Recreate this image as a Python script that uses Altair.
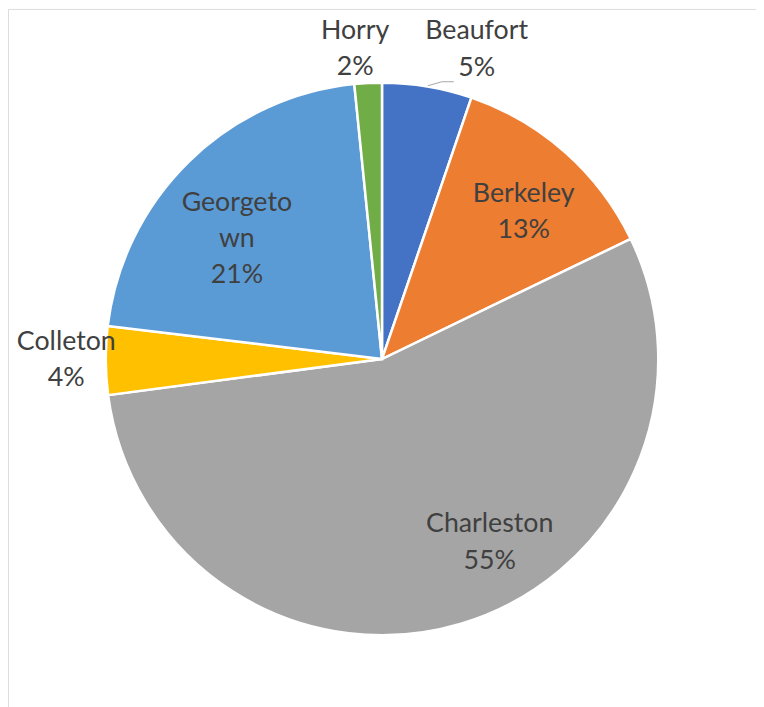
import altair as alt
import pandas as pd

# ---- data ----
counties = ["Beaufort", "Berkeley", "Charleston", "Colleton", "Georgetown", "Horry"]
shares = [5.25, 12.6, 55.1, 4.0, 21.5, 1.6]
labels = ["Beaufort\n5%", "Berkeley\n13%", "Charleston\n55%", "Colleton\n4%",
          "Georgeto\nwn\n21%", "Horry\n2%"]
colors = ["#4472C4", "#ED7D31", "#A5A5A5", "#FFC000", "#5B9BD5", "#70AD47"]

# ---- label layout (radial distance in px of first line, angular nudge in share units) ----
label_radius = [342, 218, 198, 317, 214, 330]
label_nudge = [1.85, -0.25, -4.56, 0.96, 0.44, -0.5]

df = pd.DataFrame({
    "idx": list(range(len(counties))),
    "county": counties,
    "share": shares,
    "label": labels,
    "lr": label_radius,
    "nudge": label_nudge,
})

W, H = 750, 702
R = 277

base = alt.Chart(df)

arcs = base.mark_arc(outerRadius=R, stroke="white", strokeWidth=2.5).encode(
    theta=alt.Theta("share:Q", stack=True),
    color=alt.Color("county:N", scale=alt.Scale(domain=counties, range=colors), legend=None),
    order=alt.Order("idx:Q"),
)

text = base.transform_window(
    cum="sum(share)", sort=[alt.SortField("idx")], frame=[None, 0]
).transform_calculate(
    mid="datum.cum - datum.share / 2 + datum.nudge"
).mark_text(
    font="Lato", fontSize=26.8, color="#404040", lineBreak="\n", lineHeight=36.5,
    align="center", baseline="middle",
).encode(
    theta=alt.Theta("mid:Q"),
    radius=alt.Radius("lr:Q", scale=None),
    text="label:N",
)

leader1 = alt.Chart(df).mark_rule(color="#A6A6A6", strokeWidth=1).encode(
    x=alt.value(421), y=alt.value(77), x2=alt.value(435), y2=alt.value(73)
).transform_filter("datum.idx == 0")
leader2 = alt.Chart(df).mark_rule(color="#A6A6A6", strokeWidth=1).encode(
    x=alt.value(435), y=alt.value(73), x2=alt.value(447), y2=alt.value(73)
).transform_filter("datum.idx == 0")

chart = alt.layer(arcs, text, leader1, leader2).properties(
    width=W, height=H, padding=0, autosize=alt.AutoSizeParams(type="none")
).configure_view(stroke="#D9D9D9", strokeWidth=2).configure(background="white")

chart.save("out.html", embed_options={"renderer": "svg", "actions": False})
